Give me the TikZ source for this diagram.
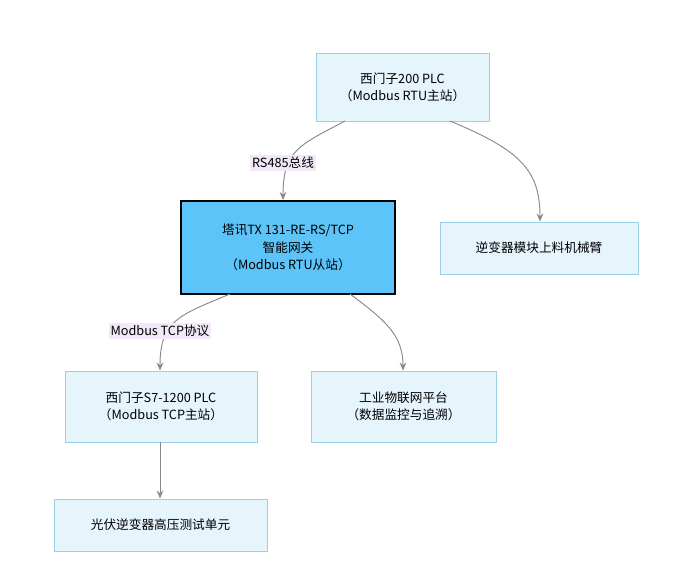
\documentclass[tikz,border=0pt]{standalone}
\usepackage{fontspec}
\setmainfont{Noto Sans CJK SC}
\usetikzlibrary{arrows.meta}
\definecolor{lfill}{HTML}{E6F4FC}
\definecolor{ldraw}{HTML}{9CCFE8}
\definecolor{cfill}{HTML}{5CC4F8}
\definecolor{edge}{HTML}{888888}
\definecolor{lab}{HTML}{F3E8F8}
\begin{document}
\begin{tikzpicture}[x=0.75pt,y=-0.75pt,
  box/.style={draw=ldraw,fill=lfill,line width=0.7pt,align=center,font=\fontsize{9.5}{13}\selectfont,inner sep=0pt},
  cbox/.style={draw=black,fill=cfill,line width=1.5pt,align=center,font=\fontsize{9.5}{13}\selectfont,inner sep=0pt},
  conn/.style={draw=edge,line width=0.7pt,-{Stealth[length=6pt,width=5pt]}},
  lbl/.style={fill=lab,inner sep=1.5pt,font=\fontsize{9.5}{12}\selectfont}]
\useasboundingbox (0,0) rectangle (692,583);
\node[box,minimum width=173*0.75pt,minimum height=68*0.75pt] (top) at (402.5,87) {西门子200 PLC\\（Modbus RTU主站）};
\node[cbox,minimum width=214*0.75pt,minimum height=93*0.75pt] (ctr) at (288,247.5) {塔讯TX 131-RE-RS/TCP\\智能网关\\（Modbus RTU从站）};
\node[box,minimum width=198*0.75pt,minimum height=52*0.75pt] (arm) at (539,248) {逆变器模块上料机械臂};
\node[box,minimum width=192*0.75pt,minimum height=71*0.75pt] (s7) at (161,406.5) {西门子S7-1200 PLC\\（Modbus TCP主站）};
\node[box,minimum width=185*0.75pt,minimum height=71*0.75pt] (iot) at (403.5,406.5) {工业物联网平台\\（数据监控与追溯）};
\node[box,minimum width=213*0.75pt,minimum height=52*0.75pt] (pv) at (160.5,525) {光伏逆变器高压测试单元};
\coordinate (a1) at (345,121); \coordinate (a2) at (450,121);
\coordinate (b1) at (230,294); \coordinate (b2) at (350,294);
\draw[conn] (a1) .. controls (300,145) and (283,150) .. (ctr.north -| 283,0);
\node[lbl] (l1) at (283,163) {RS485总线};
\draw[conn] (a2) .. controls (520,150) and (540,170) .. (arm.north -| 540,0);
\draw[conn] (b1) .. controls (180,315) and (160,320) .. (s7.north -| 160,0);
\node[lbl] (l2) at (160,331) {Modbus TCP协议};
\draw[conn] (b2) .. controls (385,320) and (403,335) .. (iot.north -| 403,0);
\draw[conn] (s7.south -| 160,0) -- (pv.north -| 160,0);
\end{tikzpicture}
\end{document}
